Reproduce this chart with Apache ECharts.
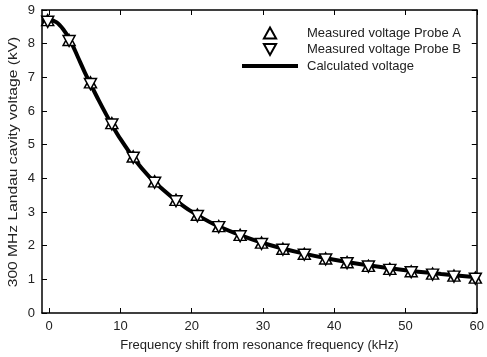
<!DOCTYPE html>
<html>
<head>
<meta charset="utf-8">
<script src="https://cdn.jsdelivr.net/npm/echarts@6/dist/echarts.min.js"></script>
<style>
html,body{margin:0;padding:0;background:#fff;}
#chart{width:487px;height:357px;}
</style>
</head>
<body>
<div id="chart"></div>
<script>
// Measured frequencies (kHz)
const measFreq = [-0.2, 2.8, 5.8, 8.8, 11.8, 14.8, 17.8, 20.8, 23.8, 26.8, 29.8, 32.8, 35.8, 38.8, 41.8, 44.8, 47.8, 50.8, 53.8, 56.8, 59.8];
// Measured voltage Probe A (kV)
const probeA = [8.70, 8.11, 6.85, 5.64, 4.65, 3.91, 3.36, 2.92, 2.58, 2.32, 2.09, 1.91, 1.76, 1.62, 1.51, 1.40, 1.31, 1.24, 1.17, 1.11, 1.05];
// Measured voltage Probe B (kV)
const probeB = [8.65, 8.08, 6.80, 5.60, 4.61, 3.87, 3.32, 2.88, 2.55, 2.28, 2.05, 1.88, 1.73, 1.59, 1.48, 1.38, 1.28, 1.21, 1.14, 1.08, 1.02];
// Calculated voltage curve
const calcFreq = [-1, 0, 1, 2, 3, 4, 5, 6, 7, 8, 9, 10, 12, 14, 16, 18, 20, 23, 26, 30, 35, 40, 45, 50, 55, 60];
const calcVolt = [8.68, 8.70, 8.64, 8.42, 8.08, 7.62, 7.15, 6.72, 6.30, 5.90, 5.52, 5.17, 4.56, 4.06, 3.66, 3.31, 3.01, 2.65, 2.38, 2.08, 1.80, 1.58, 1.41, 1.27, 1.16, 1.06];
const xTicks = [0, 10, 20, 30, 40, 50, 60];
const yTicks = [0, 1, 2, 3, 4, 5, 6, 7, 8, 9];
const xName = 'Frequency shift from resonance frequency (kHz)';
const yName = '300 MHz Landau cavity voltage (kV)';

const txt = '#222';
const font = 'Liberation Sans, Arial, sans-serif';
const pair = (xs, ys) => xs.map((x, i) => [x, ys[i]]);

const chart = echarts.init(document.getElementById('chart'), null, {renderer: 'canvas'});
const axLine = {show: true, onZero: false, lineStyle: {color: '#000', width: 1.5}};
const tick = {show: true, inside: true, length: 5, lineStyle: {color: '#000', width: 1}};
const option = {
  animation: false,
  backgroundColor: '#fff',
  textStyle: {fontFamily: font},
  grid: {left: 42, right: 7, top: 10, bottom: 44, containLabel: false},
  legend: {
    left: 242, top: 26.5, orient: 'vertical', padding: 0,
    itemWidth: 56, itemHeight: 11, itemGap: 3.5,
    textStyle: {fontSize: 13, color: txt, fontFamily: font, padding: [0, 0, 0, 4]},
    data: [
      {name: 'Measured voltage Probe A'},
      {name: 'Measured voltage Probe B'},
      {name: 'Calculated voltage', icon: 'path://M0,0H56V4H0Z'}
    ]
  },
  graphic: [{
    type: 'text', x: 13, y: 162, rotation: Math.PI / 2, scaleX: 1.2,
    style: {text: yName, fontSize: 13, fontFamily: font, fill: txt, align: 'center', verticalAlign: 'middle'}
  }],
  xAxis: [{
    type: 'value', min: -1, max: 60, position: 'bottom',
    name: xName, nameLocation: 'middle', nameGap: 26,
    nameTextStyle: {fontSize: 13, color: txt, fontFamily: font},
    axisLine: axLine,
    axisTick: Object.assign({customValues: xTicks}, tick),
    axisLabel: {customValues: xTicks, fontSize: 13, color: txt, fontFamily: font, margin: 7},
    splitLine: {show: false}
  }, {
    type: 'value', min: -1, max: 60, position: 'top',
    axisLine: axLine,
    axisTick: Object.assign({customValues: xTicks}, tick),
    axisLabel: {show: false}, splitLine: {show: false}
  }],
  yAxis: [{
    type: 'value', min: 0, max: 9, position: 'left',
    axisLine: axLine,
    axisTick: Object.assign({customValues: yTicks}, tick),
    axisLabel: {customValues: yTicks, fontSize: 13, color: txt, fontFamily: font, margin: 7},
    splitLine: {show: false}
  }, {
    type: 'value', min: 0, max: 9, position: 'right',
    axisLine: axLine,
    axisTick: Object.assign({customValues: yTicks}, tick),
    axisLabel: {show: false}, splitLine: {show: false}
  }],
  series: [{
    name: 'Calculated voltage', type: 'line', data: pair(calcFreq, calcVolt),
    smooth: 0.3, showSymbol: false, z: 1,
    lineStyle: {color: '#000', width: 4}, itemStyle: {color: '#000'}
  }, {
    name: 'Measured voltage Probe A', type: 'scatter', data: pair(measFreq, probeA),
    symbol: 'path://M5,0L10,9L0,9Z', symbolSize: [12, 11], z: 2,
    itemStyle: {color: '#fff', borderColor: '#000', borderWidth: 1.5, opacity: 1}
  }, {
    name: 'Measured voltage Probe B', type: 'scatter', data: pair(measFreq, probeB),
    symbol: 'path://M0,0L10,0L5,9Z', symbolSize: [12, 11], z: 3,
    itemStyle: {color: '#fff', borderColor: '#000', borderWidth: 1.5, opacity: 1}
  }]
};
chart.setOption(option);
</script>
</body>
</html>
